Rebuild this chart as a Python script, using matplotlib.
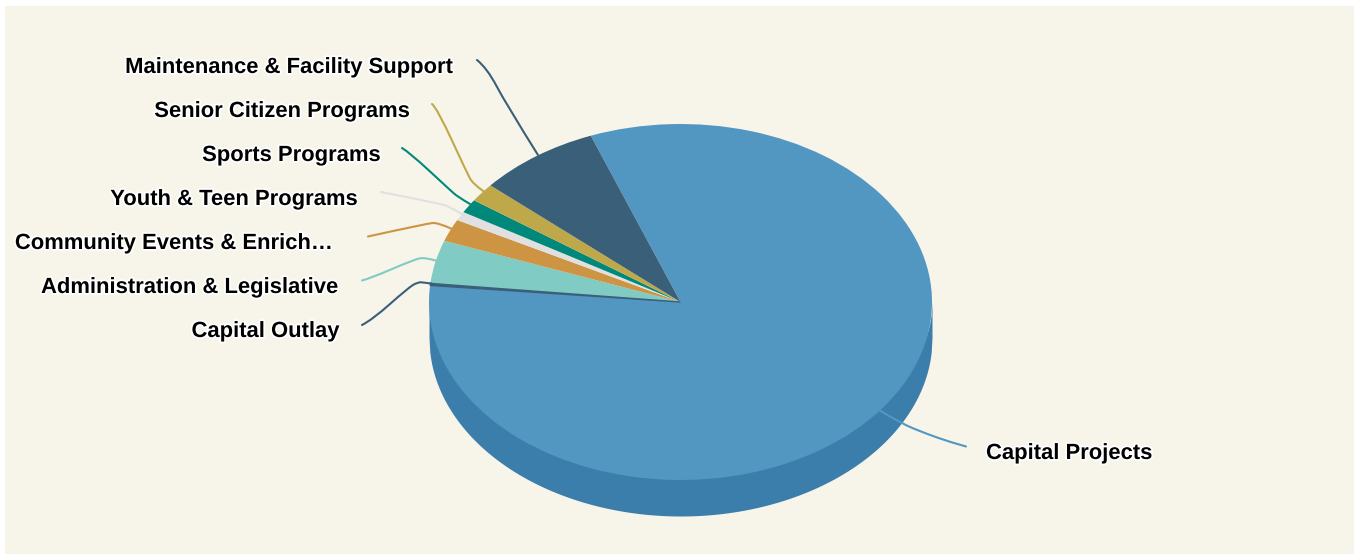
import matplotlib
matplotlib.use('Agg')
import matplotlib.pyplot as plt
import matplotlib.patheffects as pe
import numpy as np
from matplotlib.patches import PathPatch, Rectangle
from matplotlib.path import Path

# Budget shares in percent, clockwise from the start of Capital Projects
categories = ['Capital Projects', 'Capital Outlay', 'Administration & Legislative',
              'Community Events & Enrich…', 'Youth & Teen Programs', 'Sports Programs',
              'Senior Citizen Programs', 'Maintenance & Facility Support']
values = [82.29, 0.18, 3.92, 2.03, 0.81, 1.25, 1.69, 7.83]
colors = ['#5296C2', '#3A5F78', '#80CBC4', '#CD9444', '#E0E0E0', '#00897B', '#BFA84A', '#3A5F78']

WIDTH, HEIGHT = 1354, 554
BG = '#F7F5E9'
WALL = '#3C7EAB'

# pie geometry in pixels
cx, cy = 680.5, 302
rx, ry = 251.5, 178
depth = 36

# label anchors: x, y, horizontal alignment
label_pos = [(986, 451, 'left'), (339, 329, 'right'), (338, 285, 'right'),
             (333, 241, 'right'), (358, 197, 'right'), (381, 153, 'right'),
             (410, 109, 'right'), (453, 65, 'right')]

# connector control points, same order as the categories
leaders = [
    [(880, 410.5), (900, 423), (927, 434), (950, 442), (966, 446.5)],
    [(362, 325), (372, 320), (408, 288), (418, 282), (424, 282.6), (432, 283.6)],
    [(362, 280.5), (370, 278.5), (413, 260), (425, 257), (437, 261)],
    [(368, 236.5), (427, 223.5), (438, 222.5), (452, 229)],
    [(381, 192), (440, 203.5), (450, 207), (462, 214)],
    [(402, 148), (409, 152), (450, 190), (458, 197), (470, 204)],
    [(432, 104), (437, 108), (467, 173), (473, 184), (484.5, 192)],
    [(477, 60), (487, 68), (506, 104), (538, 155)],
]


def smooth_path(pts):
    # quadratic spline through the midpoints of the control polygon
    verts = [pts[0]]
    codes = [Path.MOVETO]
    for i in range(1, len(pts) - 1):
        end = pts[i + 1] if i == len(pts) - 2 else ((pts[i][0] + pts[i + 1][0]) / 2,
                                                     (pts[i][1] + pts[i + 1][1]) / 2)
        verts += [pts[i], end]
        codes += [Path.CURVE3, Path.CURVE3]
    return Path(verts, codes)


fig = plt.figure(figsize=(WIDTH / 100, HEIGHT / 100), dpi=100, facecolor='white')
fig.add_artist(Rectangle((5 / WIDTH, 0), (WIDTH - 5) / WIDTH, (HEIGHT - 6) / HEIGHT,
                         transform=fig.transFigure, facecolor=BG, edgecolor='none', zorder=-1))

# pie axes stretched so that the circle turns into the tilted ellipse
ax = fig.add_axes([0, 0, 1, 1], zorder=1)
x = np.linspace(-1, 1, 600)
arc = -np.sqrt(1 - x ** 2)
# side wall runs up under the pie so no seam shows along the rim
ax.fill_between(x, 0.9 * arc, arc - depth / ry, color=WALL, linewidth=0, zorder=0)
wedges, _ = ax.pie(values, colors=colors, startangle=110.9, counterclock=False, radius=1,
                   wedgeprops={'linewidth': 0})
# the Capital Outlay sliver needs a stroke to stay visible
wedges[1].set_edgecolor(colors[1])
wedges[1].set_linewidth(1.0)
wedges[1].set_zorder(wedges[0].get_zorder() + 1)
ax.set_aspect('auto')
ax.set_xlim(-cx / rx, (WIDTH - cx) / rx)
ax.set_ylim((cy - HEIGHT) / ry, cy / ry)
ax.axis('off')

# connectors and labels are laid out in pixel coordinates
over = fig.add_axes([0, 0, 1, 1], zorder=2)
over.set_xlim(0, WIDTH)
over.set_ylim(HEIGHT, 0)
over.axis('off')

for name, color, pts, (tx, ty, ha) in zip(categories, colors, leaders, label_pos):
    over.add_patch(PathPatch(smooth_path(pts), facecolor='none', edgecolor=color,
                             linewidth=1.5, capstyle='round'))
    over.text(tx, ty, name, ha=ha, va='center_baseline', fontsize=15.85, fontweight='bold',
              family='Liberation Sans', color='black',
              path_effects=[pe.withStroke(linewidth=2.5, foreground='white')])

fig.savefig('out.png', dpi=100)
